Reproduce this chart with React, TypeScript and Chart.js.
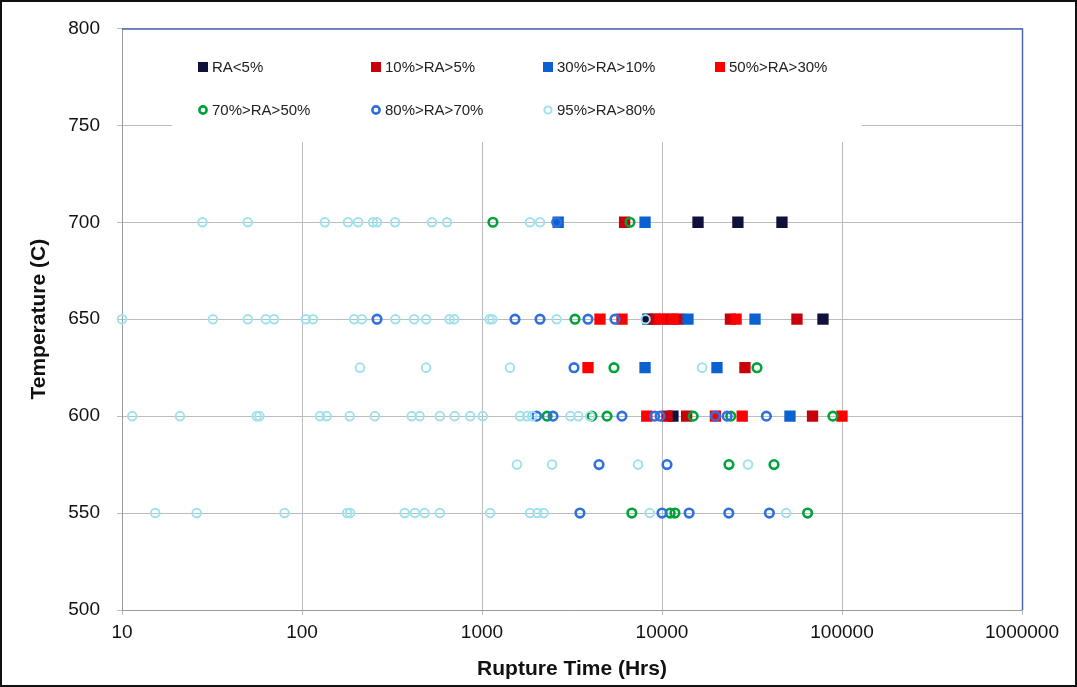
import React, { useEffect, useRef } from "react";
import { Chart, registerables } from "chart.js";
Chart.register(...registerables);

const FONT = "'Liberation Sans', Arial, sans-serif";

const xTickValues = [10, 100, 1000, 10000, 100000, 1000000];
const seriesLabels = ["RA<5%", "10%>RA>5%", "30%>RA>10%", "50%>RA>30%", "70%>RA>50%", "80%>RA>70%", "95%>RA>80%"];

// RA<5%
const raLt5Time = [15850, 26400, 46400, 8360, 78400, 11500];
const raLt5Temp = [700, 700, 700, 650, 650, 600];
// 10%>RA>5%
const ra10Time = [6200, 9200, 10800, 12300, 24000, 56200, 28900, 10660, 13700, 68600];
const ra10Temp = [700, 650, 650, 650, 650, 650, 625, 600, 600, 600];
// 30%>RA>10%
const ra30Time = [2650, 8050, 13940, 32870, 8050, 20200, 51400];
const ra30Temp = [700, 700, 650, 650, 625, 625, 600];
// 50%>RA>30%
const ra50Time = [4525, 5995, 9800, 11500, 25800, 3880, 8230, 19800, 27900, 100000];
const ra50Temp = [650, 650, 650, 650, 650, 625, 600, 600, 600, 600];
// 70%>RA>50%
const ra70Time = [1150, 6640, 3286, 5410, 33700, 2300, 4080, 4950, 14900, 24100, 89000, 23550, 41900, 6800, 11100, 11800, 64400];
const ra70Temp = [700, 700, 650, 625, 625, 600, 600, 600, 600, 600, 600, 575, 575, 550, 550, 550, 550];
// 80%>RA>70%
const ra80Time = [2600, 261, 1525, 2100, 3880, 5480, 3245, 2010, 2480, 5990, 9110, 9760, 19800, 23000, 38000, 4467, 10660, 3500, 10000, 14150, 23500, 39500];
const ra80Temp = [700, 650, 650, 650, 650, 650, 625, 600, 600, 600, 600, 600, 600, 600, 600, 575, 575, 550, 550, 550, 550, 550];
// 95%>RA>80%
const ra95Time = [
  28, 50, 134, 180, 205, 248, 261, 329, 527, 639, 1848, 2100,
  10, 32, 50, 63, 70, 105, 115, 195, 215, 330, 420, 490, 660, 700, 1100, 1140, 2600, 8100,
  210, 489, 1431, 16700,
  11.4, 21, 56, 58, 126, 137, 184, 254, 407, 450, 583, 705, 860, 1010, 1630, 1780, 1900, 3100, 3430, 3990,
  1565, 2450, 7360, 30060,
  15.3, 26, 80, 178, 185, 372, 424, 480, 583, 1110, 1850, 2030, 2200, 8550, 49000,
];
const ra95Temp = [
  700, 700, 700, 700, 700, 700, 700, 700, 700, 700, 700, 700,
  650, 650, 650, 650, 650, 650, 650, 650, 650, 650, 650, 650, 650, 650, 650, 650, 650, 650,
  625, 625, 625, 625,
  600, 600, 600, 600, 600, 600, 600, 600, 600, 600, 600, 600, 600, 600, 600, 600, 600, 600, 600, 600,
  575, 575, 575, 575,
  550, 550, 550, 550, 550, 550, 550, 550, 550, 550, 550, 550, 550, 550, 550,
];

const seriesTimes = [raLt5Time, ra10Time, ra30Time, ra50Time, ra70Time, ra80Time, ra95Time];
const seriesTemps = [raLt5Temp, ra10Temp, ra30Temp, ra50Temp, ra70Temp, ra80Temp, ra95Temp];

type Sty = { kind: "rect" | "circle"; color: string; width: number };
const styles: Sty[] = [
  { kind: "rect", color: "#10103c", width: 0 },
  { kind: "rect", color: "#c8000a", width: 0 },
  { kind: "rect", color: "#0a62d0", width: 0 },
  { kind: "rect", color: "#ff0000", width: 0 },
  { kind: "circle", color: "#00a23c", width: 2.6 },
  { kind: "circle", color: "#2f6fe0", width: 2.6 },
  { kind: "circle", color: "#9fe2ee", width: 2 },
];

const legendCols = [203, 376, 548, 720];
const legendRows = [67, 110];

const framePlugin = {
  id: "frame",
  beforeDraw(chart: any) {
    const c = chart.ctx;
    c.save();
    c.fillStyle = "#ffffff";
    c.fillRect(0, 0, chart.width, chart.height);
    c.restore();
  },
  beforeDatasetsDraw(chart: any) {
    const c = chart.ctx;
    c.save();
    c.fillStyle = "#ffffff";
    c.fillRect(172, 29, 690, 113);
    c.font = "15px " + FONT;
    c.textBaseline = "middle";
    c.textAlign = "left";
    seriesLabels.forEach((lab, i) => {
      const col = i < 4 ? i : i - 4;
      const row = i < 4 ? 0 : 1;
      const cx = legendCols[col];
      const cy = legendRows[row];
      const s = styles[i];
      if (s.kind === "rect") {
        c.fillStyle = s.color;
        c.fillRect(cx - 5, cy - 5, 10, 10);
      } else {
        c.strokeStyle = s.color;
        c.lineWidth = s.width;
        c.beginPath();
        c.arc(cx, cy, 3.6, 0, Math.PI * 2);
        c.stroke();
      }
      c.fillStyle = "#222222";
      c.fillText(lab, cx + 9, cy + 1);
    });
    c.restore();
  },
  afterDraw(chart: any) {
    const c = chart.ctx;
    const a = chart.chartArea;
    c.save();
    c.strokeStyle = "#4a68b0";
    c.lineWidth = 1.5;
    c.beginPath();
    c.moveTo(a.left, a.top + 0.5);
    c.lineTo(a.right + 0.5, a.top + 0.5);
    c.lineTo(a.right + 0.5, a.bottom);
    c.stroke();
    c.strokeStyle = "#111111";
    c.lineWidth = 2;
    c.strokeRect(1, 1, chart.width - 2, chart.height - 2);
    c.restore();
  },
};

export default function App() {
  const ref = useRef<HTMLCanvasElement>(null);
  useEffect(() => {
    document.body.style.margin = "0";
    const canvas = ref.current!;
    const datasets = seriesLabels.map((label, i) => {
      const s = styles[i];
      return {
        label,
        data: seriesTimes[i].map((t, j) => ({ x: t, y: seriesTemps[i][j] })),
        pointStyle: s.kind,
        pointRadius: s.kind === "rect" ? 8 : 4.3,
        pointHoverRadius: s.kind === "rect" ? 8 : 4.3,
        backgroundColor: s.kind === "rect" ? s.color : "rgba(255,255,255,0)",
        borderColor: s.color,
        borderWidth: s.width,
        order: 7 - i,
        clip: 12,
      };
    });
    const chart = new Chart(canvas, {
      type: "scatter",
      data: { datasets } as any,
      plugins: [framePlugin],
      options: {
        animation: false,
        responsive: false,
        devicePixelRatio: 1,
        layout: { padding: { top: 27, right: 55, left: 0, bottom: 0 } },
        plugins: { legend: { display: false }, tooltip: { enabled: false } },
        scales: {
          x: {
            type: "logarithmic",
            min: 10,
            max: 1000000,
            afterBuildTicks: (s: any) => {
              s.ticks = xTickValues.map((v) => ({ value: v }));
            },
            afterFit: (s: any) => {
              s.height = 77;
            },
            ticks: {
              callback: (v: any) => String(v),
              font: { family: FONT, size: 19 },
              color: "#111111",
              maxRotation: 0,
              autoSkip: false,
              padding: 6,
            },
            grid: { color: "#bcbcbc", tickLength: 5, lineWidth: 1 },
            border: { color: "#9a9a9a" },
            title: {
              display: true,
              text: "Rupture Time (Hrs)",
              font: { family: FONT, size: 21, weight: "bold" },
              color: "#111111",
              padding: { top: 0, bottom: 5 },
            },
          },
          y: {
            type: "linear",
            min: 500,
            max: 800,
            afterFit: (s: any) => {
              s.width = 122;
            },
            ticks: {
              stepSize: 50,
              font: { family: FONT, size: 19 },
              color: "#111111",
              padding: 17,
            },
            grid: { color: "#bcbcbc", tickLength: 5, lineWidth: 1 },
            border: { color: "#9a9a9a" },
            title: {
              display: true,
              text: "Temperature (C)",
              font: { family: FONT, size: 21, weight: "bold" },
              color: "#111111",
              padding: { top: 27, bottom: 0 },
            },
          },
        },
      } as any,
    });
    return () => chart.destroy();
  }, []);
  return (
    <div style={{ width: 1077, height: 687, overflow: "hidden" }}>
      <canvas ref={ref} width={1077} height={687} style={{ display: "block" }} />
    </div>
  );
}
